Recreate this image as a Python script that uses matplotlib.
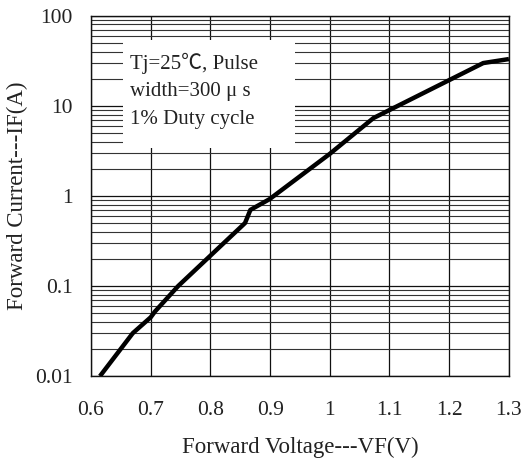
import matplotlib
matplotlib.use("Agg")
import matplotlib.pyplot as plt
from matplotlib.patches import Rectangle
from matplotlib.ticker import FixedLocator, NullFormatter

# forward characteristic
vf = [0.615, 0.670, 0.700, 0.707, 0.746, 0.858, 0.867, 0.899, 1.000, 1.073, 1.257, 1.300]
i_f = [0.010, 0.030, 0.045, 0.052, 0.100, 0.50, 0.70, 0.92, 2.93, 7.3, 29.8, 33.0]

x_ticks = [0.6, 0.7, 0.8, 0.9, 1.0, 1.1, 1.2, 1.3]
x_labels = ["0.6", "0.7", "0.8", "0.9", "1", "1.1", "1.2", "1.3"]
y_ticks = [0.01, 0.1, 1, 10, 100]
y_labels = ["0.01", "0.1", "1", "10", "100"]
note = ["Tj=25℃, Pulse", "width=300 μ s", "1% Duty cycle"]

fam = ["Liberation Serif", "Noto Sans CJK SC", "DejaVu Serif"]
plt.rcParams["font.family"] = fam

fig = plt.figure(figsize=(5.29, 4.61), dpi=100)
ax = fig.add_axes([0.172, 0.184, 0.790, 0.782])
ax.set_yscale("log")
ax.set_xlim(0.6, 1.3)
ax.set_ylim(0.01, 100)

ax.set_xticks(x_ticks)
ax.set_xticklabels(x_labels)
ax.set_yticks(y_ticks)
ax.set_yticklabels(y_labels)
minors = [m * 10.0 ** e for e in range(-2, 2) for m in range(2, 10)]
ax.yaxis.set_minor_locator(FixedLocator(minors))
ax.yaxis.set_minor_formatter(NullFormatter())
ax.tick_params(which="both", length=0, labelsize=15.5, colors="#222222")
ax.tick_params(axis="x", pad=18)
ax.tick_params(axis="y", pad=13)

ax.grid(True, which="major", axis="both", color="#111111", lw=0.9)
ax.grid(True, which="minor", axis="y", color="#333333", lw=0.8)
ax.set_axisbelow(True)
for s in ax.spines.values():
    s.set_color("#111111")
    s.set_linewidth(1.0)

ax.plot(vf, i_f, color="black", lw=3.2, solid_capstyle="butt", zorder=4)

# white box behind the note
ax.add_patch(Rectangle((0.0766, 0.633), 0.411, 0.30, transform=ax.transAxes,
                       facecolor="white", edgecolor="none", zorder=2.5))
for k, t in enumerate(note):
    ax.text(0.094, 0.868 - k * 0.078, t, transform=ax.transAxes, fontsize=15,
            color="#222222", va="center", ha="left", zorder=3)

ax.set_xlabel("Forward Voltage---VF(V)", fontsize=16.5, color="#222222", labelpad=12)
ax.set_ylabel("Forward Current---IF(A)", fontsize=16.5, color="#222222", labelpad=5)

fig.savefig("out.png", dpi=100)
